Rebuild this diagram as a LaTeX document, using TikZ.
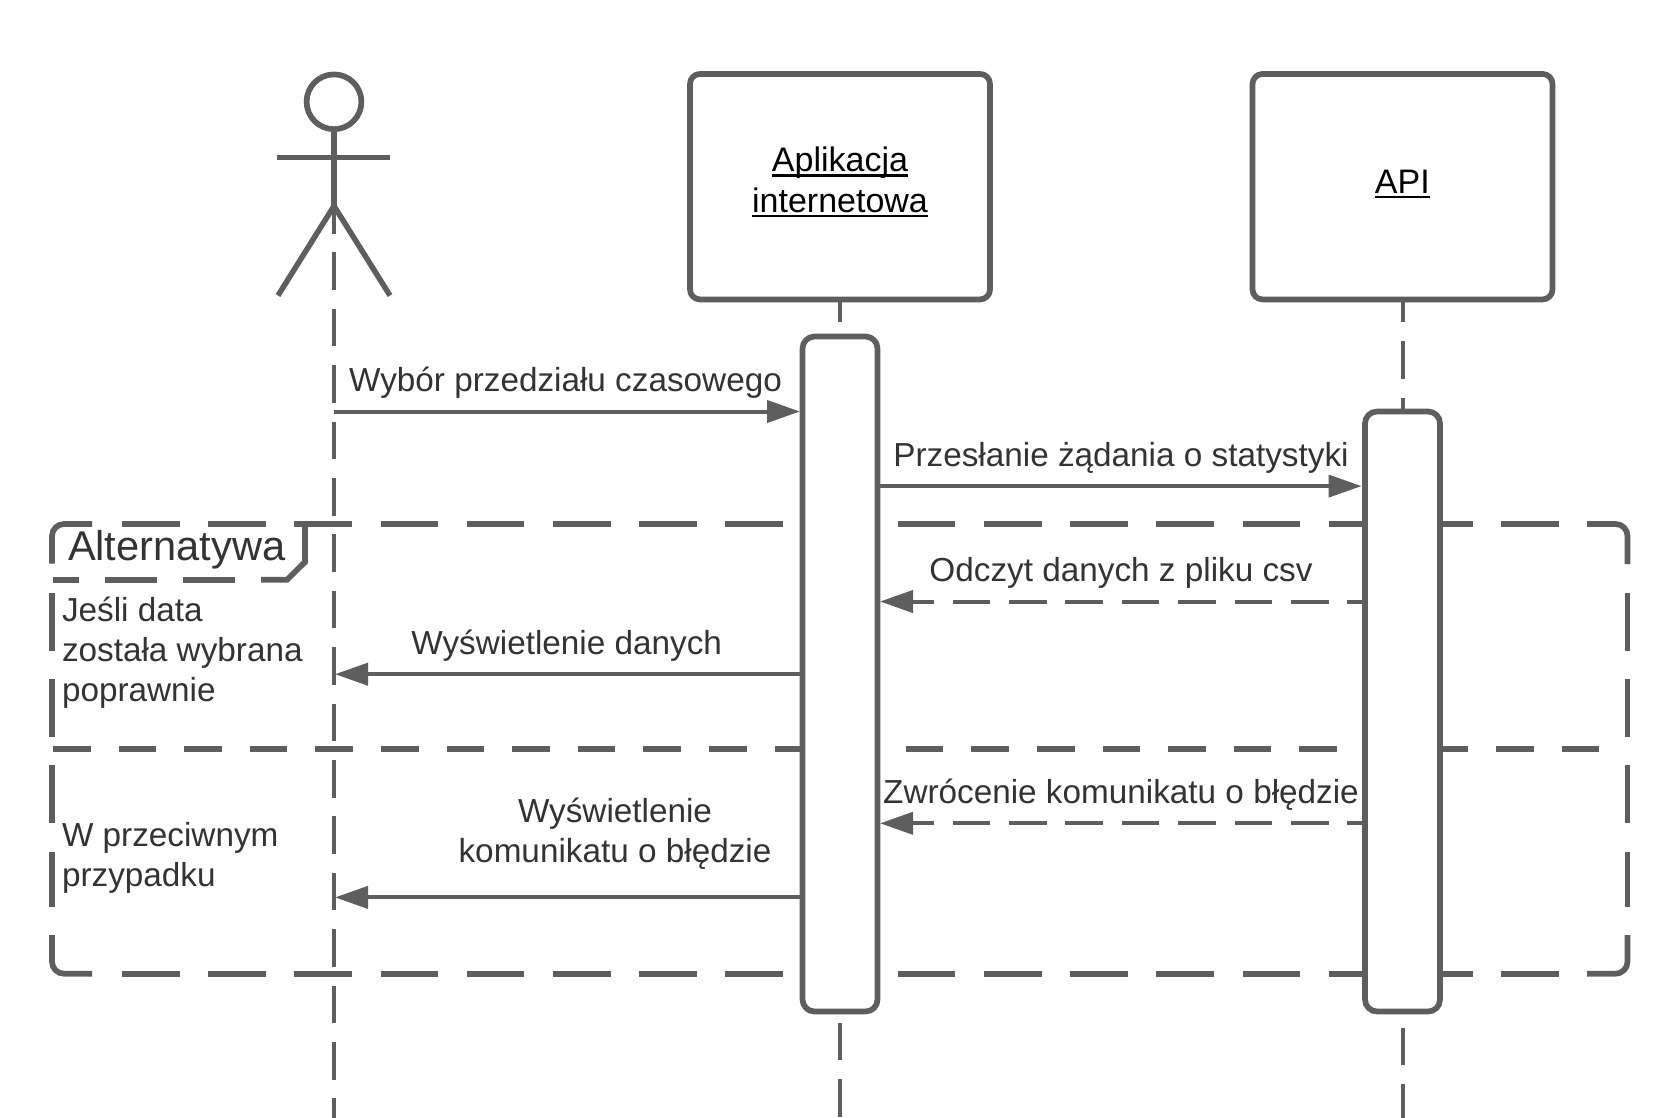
\documentclass[tikz,border=0pt]{standalone}
\usepackage{fontspec}
\setmainfont{Liberation Sans}
\usetikzlibrary{arrows.meta}
\definecolor{ln}{HTML}{5E5E5E}
\definecolor{tx}{HTML}{333333}
\newcommand{\ulx}[1]{\setbox0=\hbox{#1}\rlap{\rule[-5.2pt]{\wd0}{2.9pt}}\box0}
\tikzset{
 x=1pt,y=-1pt,
 frameline/.style={draw=ln,line width=5.7pt,line cap=butt},
 framedash/.style={frameline,dash pattern=on 57.5pt off 28.7pt},
 dividerdash/.style={frameline,dash pattern=on 37.6pt off 28pt},
 tabdash/.style={frameline,dash pattern=on 52pt off 26pt},
 lifeline/.style={draw=ln,line width=4pt,dash pattern=on 37.6pt off 18.8pt},
 objbox/.style={draw=ln,fill=white,line width=5.7pt,rounded corners=10pt,minimum width=300pt,minimum height=225.5pt,outer sep=0pt,inner sep=0pt},
 actbox/.style={draw=ln,fill=white,line width=5.7pt,rounded corners=12pt,minimum width=75pt,outer sep=0pt,inner sep=0pt},
 msg/.style={draw=ln,line width=4pt,-{Triangle[length=33pt,width=22pt]}},
 msgdash/.style={msg,dash pattern=on 37.6pt off 18.8pt,dash phase=20pt},
 lbl/.style={text=tx,anchor=base,inner sep=0pt,outer sep=0pt,font=\fontsize{33.3pt}{40pt}\selectfont},
 lbll/.style={lbl,anchor=base west},
 objlbl/.style={lbl,text=black,font=\fontsize{34pt}{40pt}\selectfont},
 actorline/.style={draw=ln,line width=5.5pt,line join=round},
}
\begin{document}
\begin{tikzpicture}
\useasboundingbox[fill=white] (0,0) rectangle (1680,1118);
% actor
\node[circle,draw=ln,line width=5.7pt,minimum size=54.8pt,inner sep=0pt,outer sep=0pt] (head) at (334,101.8) {};
\coordinate (hip) at (334,206);
\coordinate (armL) at (277,157.4);
\coordinate (armR) at (390,157.4);
\coordinate (legL) at (278,295.5);
\coordinate (legR) at (390,295.5);
\coordinate (lifeA0) at (334,196);
\coordinate (lifeAend) at (334,1118);
\draw[lifeline] (lifeA0) -- (lifeAend);
\draw[actorline] (head.south) -- (hip);
\draw[actorline] (armL) -- (armR);
\draw[actorline] (legL) -- (hip) -- (legR);
% boxes
\node[objbox] (app) at (840,186.7) {};
\node[objbox] (api) at (1402.5,186.7) {};
\node[objlbl] (applbl1) at (840,172) {\ulx{Aplikacja}};
\node[objlbl] (applbl2) at (840,212.2) {\ulx{internetowa}};
\node[objlbl] (apilbl) at (1402.3,193.2) {\ulx{API}};
% frame
\coordinate (ftl) at (122,524);
\coordinate (ftr) at (1560,524);
\coordinate (fbl) at (122,973.7);
\coordinate (fbr) at (1560,973.7);
\coordinate (fl1) at (52,593);
\coordinate (fl2) at (52,907);
\coordinate (fr1) at (1627.5,593);
\coordinate (fr2) at (1627.5,907);
\draw[framedash] (ftl) -- (ftr);
\draw[framedash] (fbl) -- (fbr);
\draw[framedash] (fl1) -- (fl2);
\draw[framedash] (fr1) -- (fr2);
\draw[frameline,rounded corners=12pt] (52,563.5) -- (52,524) -- (92,524);
\draw[frameline,rounded corners=12pt] (1587,524) -- (1627.5,524) -- (1627.5,564);
\draw[frameline,rounded corners=12pt] (52,935) -- (52,973.7) -- (92,973.7);
\draw[frameline,rounded corners=12pt] (1587,973.7) -- (1627.5,973.7) -- (1627.5,935);
\draw[frameline] (305,524) -- (305,562) -- (287,579.8) -- (261,579.8);
\coordinate (tab1) at (235,579.8);
\coordinate (tab2) at (53,579.8);
\draw[tabdash] (tab1) -- (tab2);
\coordinate (div1) at (53,748.7);
\coordinate (div2) at (1600,748.7);
\draw[dividerdash] (div1) -- (div2);
% activations on top of frame
\node[actbox,minimum height=675pt] (appact) at (840,674) {};
\node[actbox,minimum height=600pt] (apiact) at (1402.5,711.5) {};
% lifelines of objects
\coordinate (append) at (840,1118);
\coordinate (apiend) at (1402.5,1118);
\draw[lifeline,dash phase=14.7pt] (app.south) -- (appact.north);
\draw[lifeline,dash phase=14.7pt] (api.south) -- (apiact.north);
\draw[lifeline,dash phase=45.4pt] (appact.south) -- (append);
\draw[lifeline,dash phase=40.4pt] (apiact.south) -- (apiend);
% messages
\coordinate (u1) at (334,411.5);
\coordinate (u2) at (335,674.2);
\coordinate (u3) at (335,897.4);
\path (0,486.1) coordinate (y2);
\path (0,601.5) coordinate (y3);
\path (0,823.3) coordinate (y5);
\draw[msg,shorten >=2.5pt] (u1) -- (appact.west |- u1);
\draw[msg,shorten >=3.5pt] (appact.east |- y2) -- (apiact.west |- y2);
\draw[msgdash,shorten >=2.5pt] (apiact.west |- y3) -- (appact.east |- y3);
\draw[msg] (appact.west |- u2) -- (u2);
\draw[msgdash,shorten >=2.5pt] (apiact.west |- y5) -- (appact.east |- y5);
\draw[msg] (appact.west |- u3) -- (u3);
% labels
\node[lbl] (t1) at (565.5,391.2) {Wybór przedziału czasowego};
\node[lbl] (t2) at (1121,466.2) {Przesłanie żądania o statystyki};
\node[lbl] (t3) at (1121,581) {Odczyt danych z pliku csv};
\node[lbl] (t4) at (566.7,654) {Wyświetlenie danych};
\node[lbl] (t5) at (1121,803.2) {Zwrócenie komunikatu o błędzie};
\node[lbl] (t6) at (615,822.6) {Wyświetlenie};
\node[lbl] (t7) at (615,862.6) {komunikatu o błędzie};
\node[lbll,font=\fontsize{41.6pt}{48pt}\selectfont] (alt) at (68,560.8) {Alternatywa};
\node[lbll] (c1) at (62,621.5) {Jeśli data};
\node[lbll] (c2) at (62,661.5) {została wybrana};
\node[lbll] (c3) at (62,701) {poprawnie};
\node[lbll] (c4) at (62,846.2) {W przeciwnym};
\node[lbll] (c5) at (62,886) {przypadku};
\end{tikzpicture}
\end{document}
